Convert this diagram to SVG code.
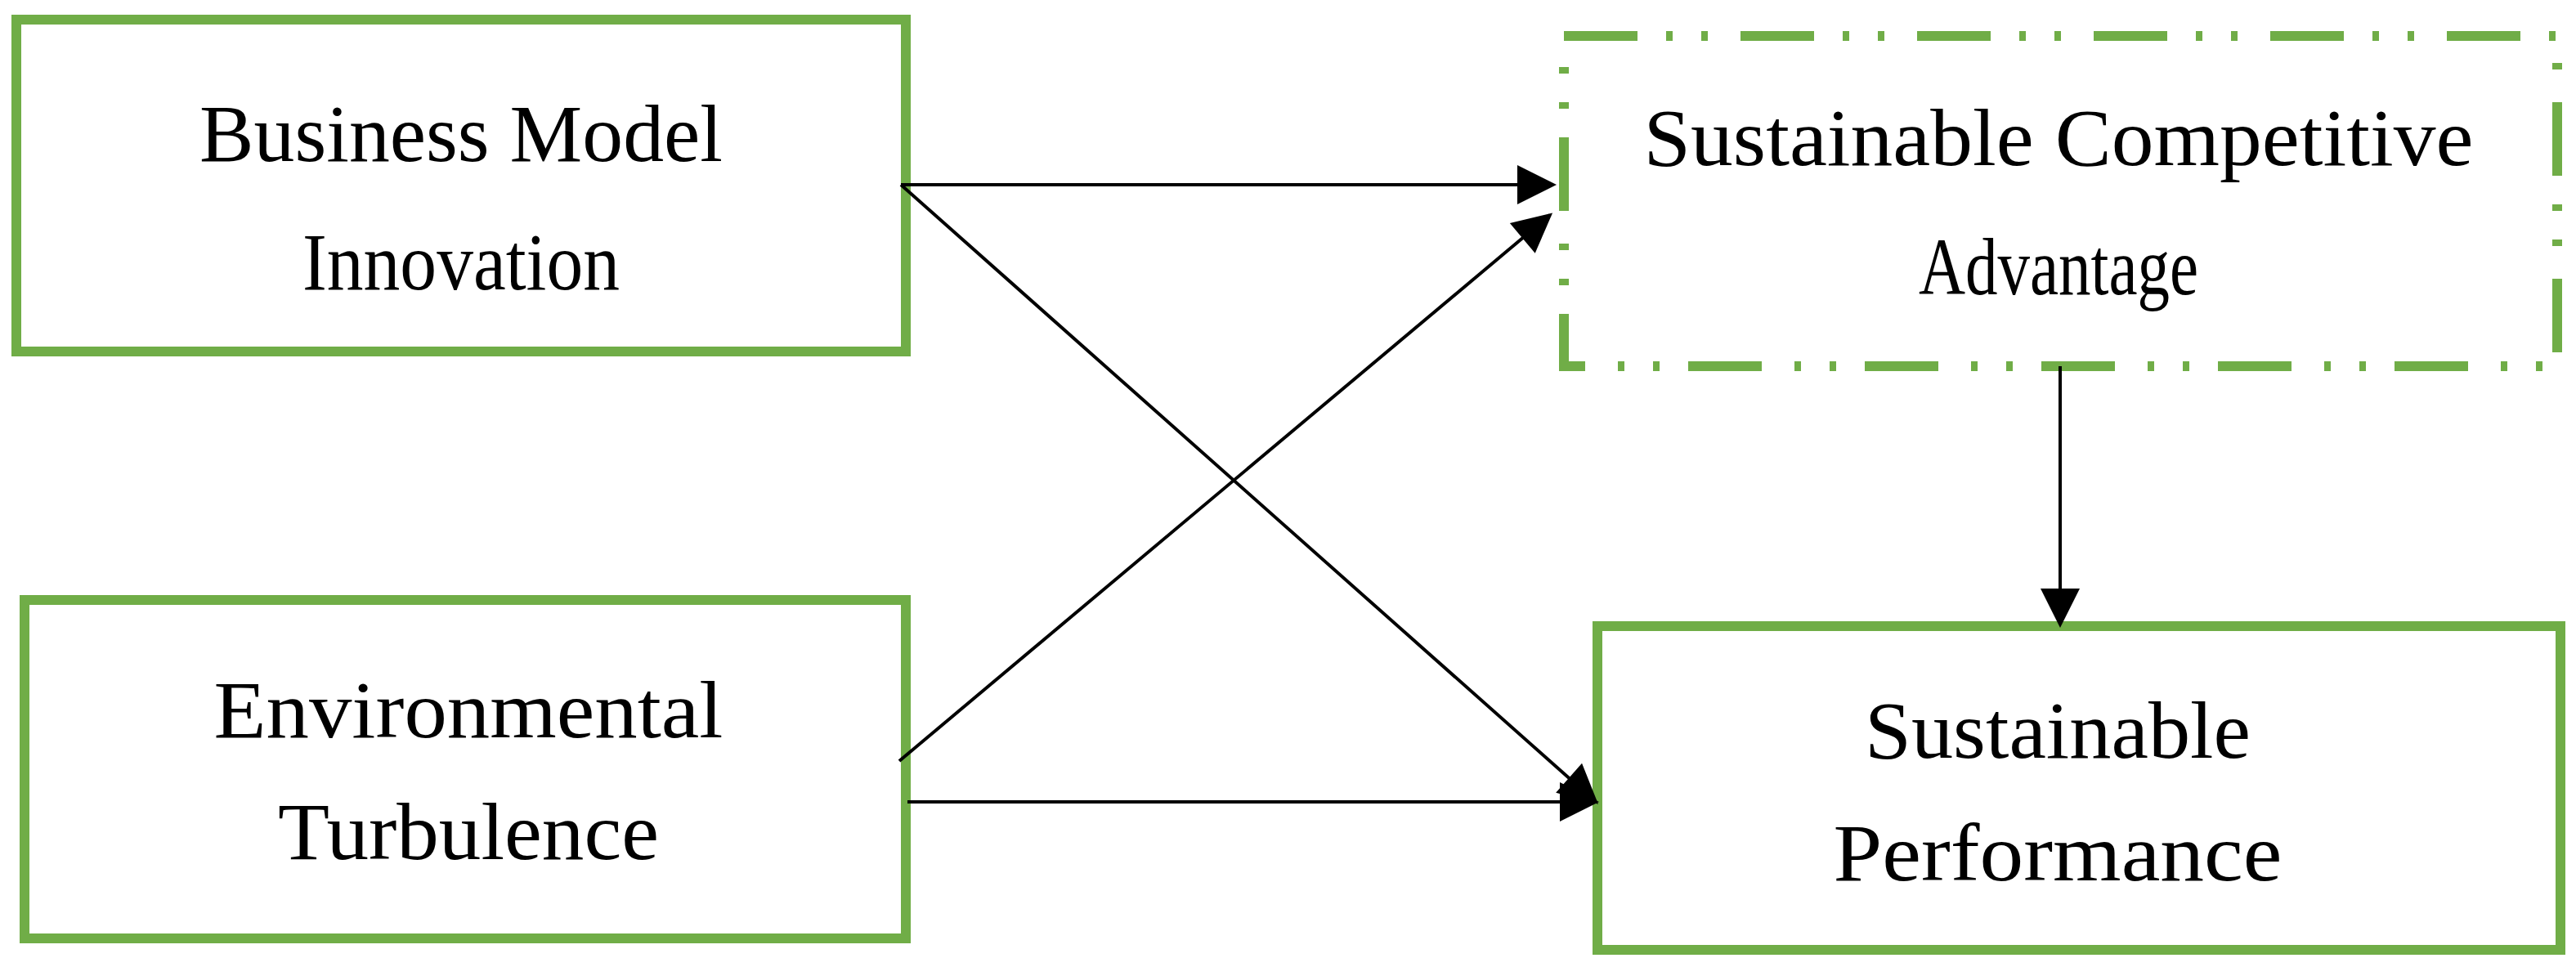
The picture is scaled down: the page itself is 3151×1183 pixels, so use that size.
<svg xmlns="http://www.w3.org/2000/svg" width="3151" height="1183" viewBox="0 0 3151 1183">
<style>
.box{fill:#fff;stroke:#70AD47;stroke-width:12}
.dash{stroke-dasharray:90 35 8 35 8 40}
.t{font-family:"Liberation Serif",serif;font-size:100px;fill:#000;text-anchor:middle}
.c{stroke:#000;stroke-width:4;fill:none;marker-end:url(#a)}
</style>
<defs>
<marker id="a" viewBox="0 0 12 12" refX="11" refY="6" markerWidth="15" markerHeight="12" markerUnits="strokeWidth" orient="auto">
<path d="M0,0 L12,6 L0,12 Z" fill="#000"/>
</marker>
</defs>
<rect width="3151" height="1183" fill="#fff"/>
<g id="bmi"><rect class="box" x="20" y="24" width="1088" height="406"/>
<text class="t" x="564" y="197" textLength="640" lengthAdjust="spacingAndGlyphs">Business Model</text>
<text class="t" x="564" y="354" textLength="388" lengthAdjust="spacingAndGlyphs">Innovation</text></g>
<g id="et"><rect class="box" x="30" y="734" width="1078" height="414"/>
<text class="t" x="573" y="902" textLength="623" lengthAdjust="spacingAndGlyphs">Environmental</text>
<text class="t" x="573" y="1051" textLength="466" lengthAdjust="spacingAndGlyphs">Turbulence</text></g>
<g id="sca"><rect class="box dash" x="1913" y="44" width="1215" height="404"/>
<text class="t" x="2518" y="202" textLength="1015" lengthAdjust="spacingAndGlyphs">Sustainable Competitive</text>
<text class="t" x="2518" y="360" textLength="342" lengthAdjust="spacingAndGlyphs">Advantage</text></g>
<g id="sp"><rect class="box" x="1954" y="766" width="1178" height="396"/>
<text class="t" x="2517" y="927" textLength="472" lengthAdjust="spacingAndGlyphs">Sustainable</text>
<text class="t" x="2517" y="1077" textLength="549" lengthAdjust="spacingAndGlyphs">Performance</text></g>
<g id="connectors">
<line class="c" x1="1102" y1="226" x2="1900" y2="226"/>
<line class="c" x1="1102" y1="226" x2="1952" y2="981"/>
<line class="c" x1="1100" y1="931" x2="1896" y2="263"/>
<line class="c" x1="1110" y1="981" x2="1952" y2="981"/>
<line class="c" x1="2520" y1="448" x2="2520" y2="764"/>
</g>
</svg>
